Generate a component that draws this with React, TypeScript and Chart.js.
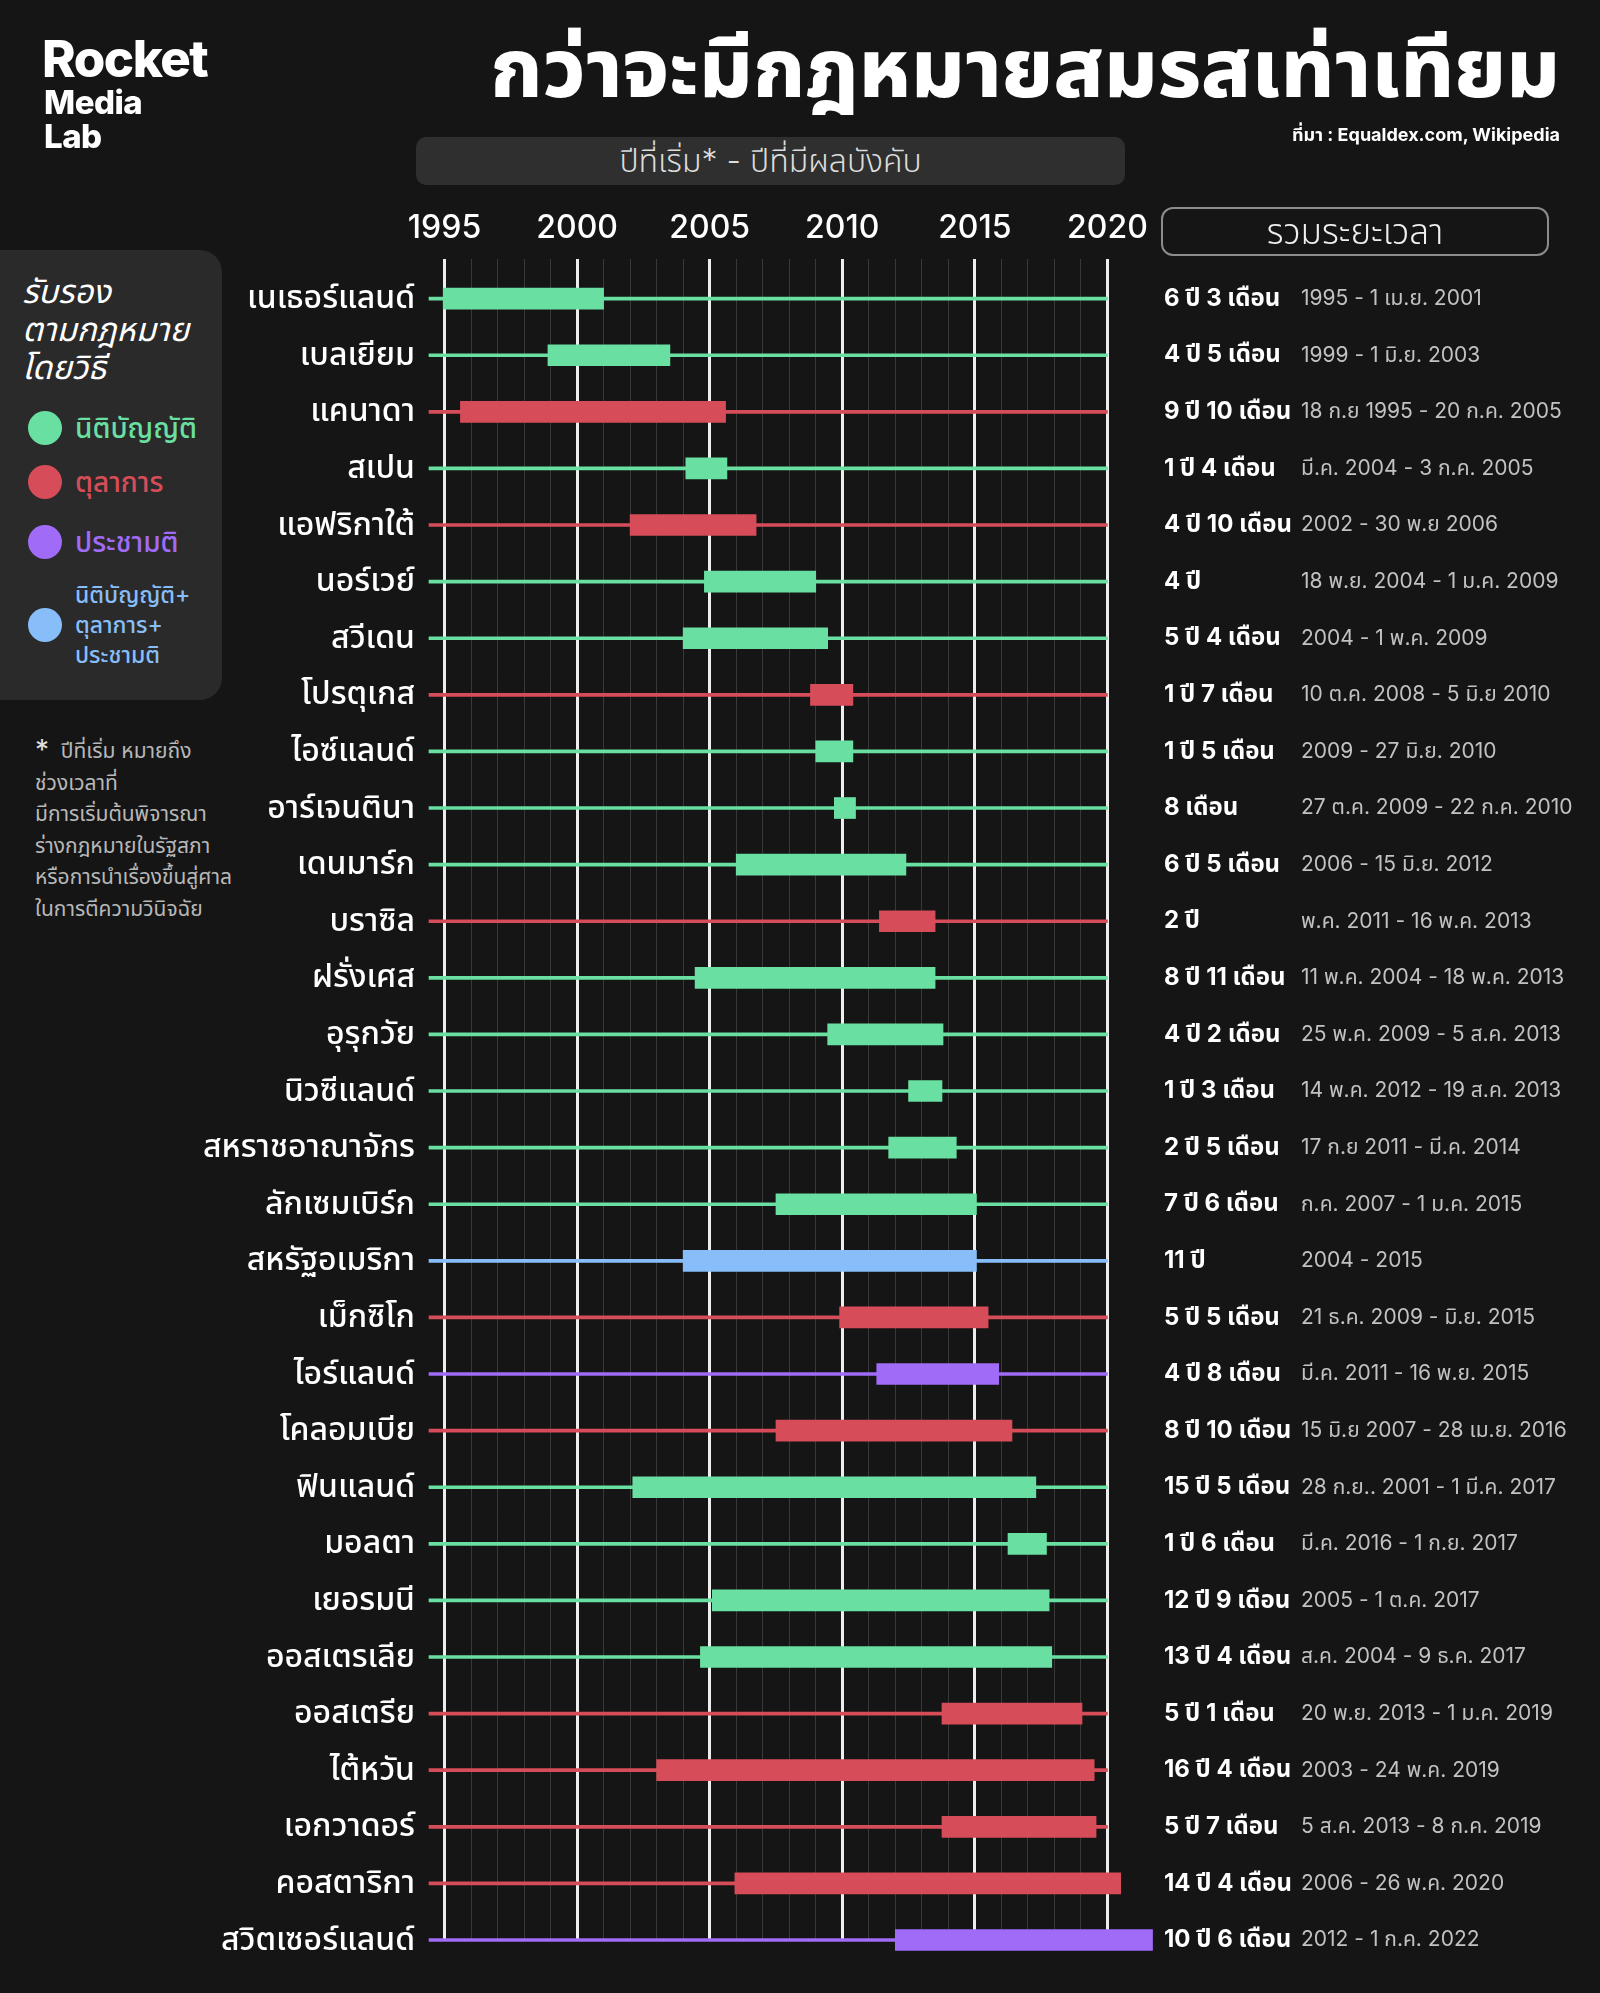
import React, { useEffect, useRef } from "react";
import { Chart, registerables } from "chart.js";

Chart.register(...registerables);

// ---------- data ----------
const countries = [
  "เนเธอร์แลนด์", "เบลเยียม", "แคนาดา", "สเปน", "แอฟริกาใต้", "นอร์เวย์", "สวีเดน", "โปรตุเกส",
  "ไอซ์แลนด์", "อาร์เจนตินา", "เดนมาร์ก", "บราซิล", "ฝรั่งเศส", "อุรุกวัย", "นิวซีแลนด์",
  "สหราชอาณาจักร", "ลักเซมเบิร์ก", "สหรัฐอเมริกา", "เม็กซิโก", "ไอร์แลนด์", "โคลอมเบีย",
  "ฟินแลนด์", "มอลตา", "เยอรมนี", "ออสเตรเลีย", "ออสเตรีย", "ไต้หวัน", "เอกวาดอร์",
  "คอสตาริกา", "สวิตเซอร์แลนด์",
];

// L = legislature, C = court, R = referendum, M = legislature + court + referendum
const methods = [
  "L", "L", "C", "L", "C", "L", "L", "C", "L", "L", "L", "C", "L", "L", "L",
  "L", "L", "M", "C", "R", "C", "L", "L", "L", "L", "C", "C", "C", "C", "R",
];

const startYears = [
  1994.95, 1998.9, 1995.6, 2004.1, 2002.0, 2004.8, 2004.0, 2008.8, 2009.0, 2009.7,
  2006.0, 2011.4, 2004.45, 2009.45, 2012.5, 2011.75, 2007.5, 2004.0, 2009.9, 2011.3,
  2007.5, 2002.1, 2016.25, 2005.1, 2004.65, 2013.76, 2003.0, 2013.76, 2005.95, 2012.0,
];

const endYears = [
  2001.0, 2003.5, 2005.6, 2005.65, 2006.75, 2009.0, 2009.45, 2010.4, 2010.4, 2010.5,
  2012.4, 2013.5, 2013.5, 2013.8, 2013.76, 2014.3, 2015.06, 2015.06, 2015.5, 2015.9,
  2016.4, 2017.3, 2017.7, 2017.8, 2017.9, 2019.04, 2019.5, 2019.57, 2020.5, 2021.7,
];

const durations = [
  "6 ปี 3 เดือน", "4 ปี 5 เดือน", "9 ปี 10 เดือน", "1 ปี 4 เดือน", "4 ปี 10 เดือน", "4 ปี",
  "5 ปี 4 เดือน", "1 ปี 7 เดือน", "1 ปี 5 เดือน", "8 เดือน", "6 ปี 5 เดือน", "2 ปี",
  "8 ปี 11 เดือน", "4 ปี 2 เดือน", "1 ปี 3 เดือน", "2 ปี 5 เดือน", "7 ปี 6 เดือน", "11 ปี",
  "5 ปี 5 เดือน", "4 ปี 8 เดือน", "8 ปี 10 เดือน", "15 ปี 5 เดือน", "1 ปี 6 เดือน",
  "12 ปี 9 เดือน", "13 ปี 4 เดือน", "5 ปี 1 เดือน", "16 ปี 4 เดือน", "5 ปี 7 เดือน",
  "14 ปี 4 เดือน", "10 ปี 6 เดือน",
];

const periods = [
  "1995 - 1 เม.ย. 2001", "1999 - 1 มิ.ย. 2003", "18 ก.ย 1995 - 20 ก.ค. 2005",
  "มี.ค. 2004 - 3 ก.ค. 2005", "2002 - 30 พ.ย 2006", "18 พ.ย. 2004 - 1 ม.ค. 2009",
  "2004 - 1 พ.ค. 2009", "10 ต.ค. 2008 - 5 มิ.ย 2010", "2009 - 27 มิ.ย. 2010",
  "27 ต.ค. 2009 - 22 ก.ค. 2010", "2006 - 15 มิ.ย. 2012", "พ.ค. 2011 - 16 พ.ค. 2013",
  "11 พ.ค. 2004 - 18 พ.ค. 2013", "25 พ.ค. 2009 - 5 ส.ค. 2013", "14 พ.ค. 2012 - 19 ส.ค. 2013",
  "17 ก.ย 2011 - มี.ค. 2014", "ก.ค. 2007 - 1 ม.ค. 2015", "2004 - 2015",
  "21 ธ.ค. 2009 - มิ.ย. 2015", "มี.ค. 2011 - 16 พ.ย. 2015", "15 มิ.ย 2007 - 28 เม.ย. 2016",
  "28 ก.ย.. 2001 - 1 มี.ค. 2017", "มี.ค. 2016 - 1 ก.ย. 2017", "2005 - 1 ต.ค. 2017",
  "ส.ค. 2004 - 9 ธ.ค. 2017", "20 พ.ย. 2013 - 1 ม.ค. 2019", "2003 - 24 พ.ค. 2019",
  "5 ส.ค. 2013 - 8 ก.ค. 2019", "2006 - 26 พ.ค. 2020", "2012 - 1 ก.ค. 2022",
];

const tickLabels = [1995, 2000, 2005, 2010, 2015, 2020];
const firstGridYear = 1995;
const lastGridYear = 2020;

// ---------- style ----------
const BG = "#151515";
const FONT = '"Inter", "Noto Sans Thai", "Noto Sans Thai UI", "Loma", "Garuda", "Noto Sans", sans-serif';
const COLORS: Record<string, string> = {
  L: "#69DFA1",
  C: "#D64D59",
  R: "#A06BF7",
  M: "#87BEF9",
};
const X_MIN = 1994.415;
const X_MAX = 2023;

const sideTextPlugin = {
  id: "sideText",
  afterDraw(chart: any) {
    const { ctx } = chart;
    const yScale = chart.scales.y;
    ctx.save();
    ctx.textBaseline = "middle";
    ctx.textAlign = "left";
    durations.forEach((d, i) => {
      const py = yScale.getPixelForValue(i);
      ctx.font = `700 24px ${FONT}`;
      ctx.fillStyle = "#ffffff";
      ctx.fillText(d, 1164, py);
      ctx.font = `400 21px ${FONT}`;
      ctx.fillStyle = "#c2c2c2";
      ctx.fillText(periods[i], 1301, py);
    });
    ctx.restore();
  },
};

export default function App() {
  const canvasRef = useRef<HTMLCanvasElement>(null);

  useEffect(() => {
    document.body.style.margin = "0";
    document.body.style.background = BG;
    const gridYears: number[] = [];
    for (let y = firstGridYear; y <= lastGridYear; y++) gridYears.push(y);

    const colors = methods.map((m) => COLORS[m]);
    const chart = new Chart(canvasRef.current as HTMLCanvasElement, {
      type: "bar",
      data: {
        datasets: [
          {
            label: "period",
            data: startYears.map((s, i) => ({ x: [s, endYears[i]], y: i })) as any,
            backgroundColor: colors,
            borderWidth: 0,
            barThickness: 21,
            grouped: false,
            clip: false as any,
            order: 0,
          },
          {
            label: "row",
            data: countries.map((_, i) => ({ x: [X_MIN, lastGridYear], y: i })) as any,
            backgroundColor: colors,
            borderWidth: 0,
            barThickness: 3,
            grouped: false,
            clip: false as any,
            order: 1,
          },
        ],
      },
      options: {
        responsive: false,
        animation: false,
        devicePixelRatio: 1,
        indexAxis: "y",
        layout: { padding: { left: 0, top: 199, right: 413, bottom: 53 } },
        plugins: { legend: { display: false }, tooltip: { enabled: false } },
        scales: {
          x: {
            type: "linear",
            position: "top",
            min: X_MIN,
            max: X_MAX,
            offset: false,
            afterBuildTicks: (s: any) => {
              s.ticks = gridYears.map((v) => ({ value: v }));
            },
            afterFit: (s: any) => {
              s.height = 60;
            },
            ticks: {
              callback: (v: any) => (tickLabels.includes(Number(v)) ? String(v) : ""),
              color: "#ffffff",
              font: { family: FONT, size: 32, weight: "500" },
              padding: 11,
              autoSkip: false,
              maxRotation: 0,
            },
            grid: {
              color: (c: any) => (tickLabels.includes(c.tick?.value) ? "#EDEDED" : "#393939"),
              lineWidth: (c: any) => (tickLabels.includes(c.tick?.value) ? 3 : 1),
              drawTicks: false,
              offset: false,
            },
            border: { display: false },
          },
          y: {
            type: "linear",
            reverse: true,
            offset: false,
            min: -0.7,
            max: countries.length - 1,
            afterBuildTicks: (s: any) => {
              s.ticks = countries.map((_, i) => ({ value: i }));
            },
            afterFit: (s: any) => {
              s.width = 429;
            },
            ticks: {
              callback: (v: any) => countries[Number(v)] ?? "",
              color: "#ffffff",
              font: { family: FONT, size: 32, weight: "500" },
              padding: 14,
              autoSkip: false,
            },
            grid: { display: false, drawTicks: false, offset: false },
            border: { display: false },
          },
        },
      } as any,
      plugins: [sideTextPlugin],
    });
    return () => chart.destroy();
  }, []);

  const abs = (o: React.CSSProperties): React.CSSProperties => ({ position: "absolute", whiteSpace: "nowrap", ...o });

  return (
    <div
      style={{
        position: "absolute",
        left: 0,
        top: 0,
        width: 1600,
        height: 1993,
        background: BG,
        overflow: "hidden",
        fontFamily: FONT,
        color: "#ffffff",
      }}
    >
      {/* legend panel */}
      <div style={abs({ left: 0, top: 250, width: 222, height: 450, background: "#2a2a2a", borderRadius: "0 22px 22px 0" })}>
        <div style={abs({ left: 22, top: 22, fontSize: 33, lineHeight: "38px", fontStyle: "italic", fontWeight: 400 })}>
          <div>รับรอง</div>
          <div>ตามกฎหมาย</div>
          <div>โดยวิธี</div>
        </div>
        {[
          { c: COLORS.L, y: 178, t: ["นิติบัญญัติ"] },
          { c: COLORS.C, y: 232, t: ["ตุลาการ"] },
          { c: COLORS.R, y: 292, t: ["ประชามติ"] },
          { c: COLORS.M, y: 375, t: ["นิติบัญญัติ+", "ตุลาการ+", "ประชามติ"] },
        ].map((it, k) => (
          <React.Fragment key={k}>
            <div style={abs({ left: 28, top: it.y - 17, width: 34, height: 34, borderRadius: 17, background: it.c })} />
            <div
              style={abs({
                left: 75,
                top: it.y - (it.t.length === 1 ? 17 : 45),
                fontSize: it.t.length === 1 ? 28 : 23,
                lineHeight: it.t.length === 1 ? "34px" : "30px",
                fontWeight: 500,
                color: it.c,
              })}
            >
              {it.t.map((s, j) => (
                <div key={j}>{s}</div>
              ))}
            </div>
          </React.Fragment>
        ))}
      </div>

      {/* footnote */}
      <div style={abs({ left: 35, top: 735, fontSize: 21, lineHeight: "31.5px", color: "#b8b8b8" })}>
        <div>
          <span style={{ fontSize: 28, color: "#e0e0e0", verticalAlign: "top", lineHeight: "30px" }}>*</span>&nbsp; ปีที่เริ่ม หมายถึง
        </div>
        <div>ช่วงเวลาที่</div>
        <div>มีการเริ่มต้นพิจารณา</div>
        <div>ร่างกฎหมายในรัฐสภา</div>
        <div>หรือการนำเรื่องขึ้นสู่ศาล</div>
        <div>ในการตีความวินิจฉัย</div>
      </div>

      <canvas ref={canvasRef} width={1600} height={1993} style={{ position: "absolute", left: 0, top: 0, width: 1600, height: 1993 }} />

      {/* logo */}
      <div style={abs({ left: 42, top: 31, fontFamily: "Inter, sans-serif", fontWeight: 800, fontSize: 51, lineHeight: "56px", letterSpacing: -1.5 })}>
        Rocket
      </div>
      <div style={abs({ left: 44, top: 84, fontFamily: "Inter, sans-serif", fontWeight: 800, fontSize: 33, lineHeight: "36px", letterSpacing: -0.5 })}>
        Media
      </div>
      <div style={abs({ left: 44, top: 118, fontFamily: "Inter, sans-serif", fontWeight: 800, fontSize: 33, lineHeight: "36px", letterSpacing: -0.5 })}>
        Lab
      </div>

      {/* title */}
      <div style={abs({ right: 40, top: 17, fontSize: 82.5, fontWeight: 800, lineHeight: "100px" })}>
        กว่าจะมีกฎหมายสมรสเท่าเทียม
      </div>
      <div style={abs({ right: 40, top: 122, fontSize: 18, fontWeight: 700, lineHeight: "26px" })}>
        ที่มา : Equaldex.com, Wikipedia
      </div>

      {/* subtitle box */}
      <div
        style={abs({
          left: 416,
          top: 137,
          width: 709,
          height: 48,
          borderRadius: 10,
          background: "#2f2f2f",
          textAlign: "center",
          fontSize: 32,
          fontWeight: 300,
          lineHeight: "48px",
          color: "#dcdcdc",
        })}
      >
        ปีที่เริ่ม* - ปีที่มีผลบังคับ
      </div>

      {/* total duration header */}
      <div
        style={abs({
          left: 1161,
          top: 207,
          width: 388,
          height: 49,
          boxSizing: "border-box",
          border: "2px solid #8c8c8c",
          borderRadius: 12,
          textAlign: "center",
          fontSize: 35,
          fontWeight: 300,
          lineHeight: "45px",
          color: "#f0f0f0",
        })}
      >
        รวมระยะเวลา
      </div>
    </div>
  );
}
